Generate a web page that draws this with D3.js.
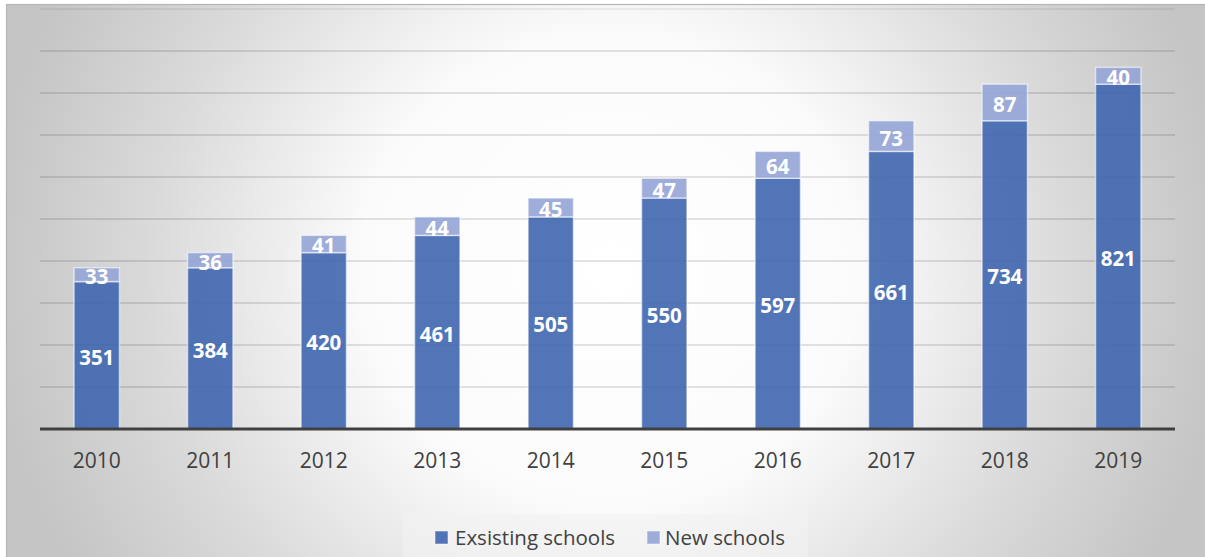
<!DOCTYPE html>
<html>
<head>
<meta charset="utf-8">
<script src="https://cdn.jsdelivr.net/npm/d3@7"></script>
<style>
  html, body { margin: 0; padding: 0; background: #ffffff; }
  svg { display: block; }
</style>
</head>
<body>
<svg id="chart" width="1205" height="557"></svg>
<script>
// School counts per year: existing schools plus newly opened ones
const years = ["2010", "2011", "2012", "2013", "2014", "2015", "2016", "2017", "2018", "2019"];
const existingSchools = [351, 384, 420, 461, 505, 550, 597, 661, 734, 821];
const newSchools = [33, 36, 41, 44, 45, 47, 64, 73, 87, 40];
const seriesNames = ["Exsisting schools", "New schools"];
const yTicks = [0, 100, 200, 300, 400, 500, 600, 700, 800, 900, 1000];

const W = 1205, H = 557;
const plot = { left: 40, right: 1175, top: 9, bottom: 429 };
const colors = { existing: "#3f66b0", added: "#93a4d6" };

const svg = d3.select("#chart");
const defs = svg.append("defs");

// Soft radial backdrop: white in the middle, grey toward the sides
const grad = defs.append("radialGradient")
  .attr("id", "bg")
  .attr("gradientUnits", "userSpaceOnUse")
  .attr("cx", 610).attr("cy", 270).attr("r", 620)
  .attr("gradientTransform", "translate(610,270) scale(1,0.95) translate(-610,-270)");
grad.append("stop").attr("offset", "0").attr("stop-color", "#ffffff");
grad.append("stop").attr("offset", "0.4").attr("stop-color", "#fbfbfb");
grad.append("stop").attr("offset", "0.75").attr("stop-color", "#d9d9d9");
grad.append("stop").attr("offset", "1").attr("stop-color", "#c5c5c5");

svg.append("rect")
  .attr("x", 6.5).attr("y", 4.5)
  .attr("width", W).attr("height", H)
  .attr("fill", "url(#bg)")
  .attr("stroke", "#b5b5b5").attr("stroke-width", 1.2);

const x = d3.scaleBand()
  .domain(years)
  .range([plot.left, plot.right])
  .paddingInner(0.6)
  .paddingOuter(0.3);

const y = d3.scaleLinear()
  .domain([0, 1000])
  .range([plot.bottom, plot.top]);

// Horizontal gridlines
svg.append("g")
  .selectAll("line")
  .data(yTicks.filter(d => d > 0))
  .join("line")
  .attr("x1", plot.left).attr("x2", plot.right)
  .attr("y1", d => y(d)).attr("y2", d => y(d))
  .attr("stroke", "#000")
  .attr("stroke-opacity", d => d === 1000 ? 0.08 : 0.15)
  .attr("stroke-width", 1.5);

const rows = years.map((yr, i) => ({ year: yr, existing: existingSchools[i], added: newSchools[i] }));
const stack = d3.stack().keys(["existing", "added"])(rows);

const bars = svg.append("g");
stack.forEach(layer => {
  bars.append("g")
    .selectAll("rect")
    .data(layer)
    .join("rect")
    .attr("x", d => x(d.data.year))
    .attr("width", x.bandwidth())
    .attr("y", d => y(d[1]))
    .attr("height", d => y(d[0]) - y(d[1]))
    .attr("fill", colors[layer.key])
    .attr("fill-opacity", 0.9)
    .attr("stroke", "#ffffff")
    .attr("stroke-opacity", 0.55)
    .attr("stroke-width", 1.5);
});

// Value labels centred in each segment
const labels = svg.append("g")
  .attr("font-family", "'Open Sans', sans-serif")
  .attr("font-weight", "bold")
  .attr("font-size", 20.5)
  .attr("fill", "#ffffff")
  .attr("text-anchor", "middle");
stack.forEach(layer => {
  labels.append("g")
    .selectAll("text")
    .data(layer)
    .join("text")
    .attr("x", d => x(d.data.year) + x.bandwidth() / 2)
    .attr("y", d => (y(d[0]) + y(d[1])) / 2 + 9.5)
    .text(d => d[1] - d[0]);
});

// Category axis
const xAxis = svg.append("g")
  .attr("transform", `translate(0,${plot.bottom})`)
  .call(d3.axisBottom(x).tickSize(0).tickPadding(0));
xAxis.select(".domain").remove();
xAxis.append("line")
  .attr("x1", plot.left).attr("x2", plot.right)
  .attr("y1", 0).attr("y2", 0)
  .attr("stroke", "#404040").attr("stroke-width", 3);
xAxis.selectAll(".tick text")
  .attr("dy", null)
  .attr("y", 39)
  .attr("font-family", "'Open Sans', sans-serif")
  .attr("font-size", 21)
  .attr("fill", "#404040");

// Legend
const legend = svg.append("g");
legend.append("rect")
  .attr("x", 403).attr("y", 514)
  .attr("width", 405).attr("height", 50)
  .attr("fill", "#f2f2f2").attr("fill-opacity", 0.6);
const legendItems = [
  { name: seriesNames[0], color: colors.existing, sx: 435, tx: 455 },
  { name: seriesNames[1], color: colors.added, sx: 647, tx: 665 }
];
legendItems.forEach(it => {
  legend.append("rect")
    .attr("x", it.sx).attr("y", 531)
    .attr("width", 13).attr("height", 13)
    .attr("fill", it.color).attr("fill-opacity", 0.9)
    .attr("stroke", "#ffffff").attr("stroke-opacity", 0.5);
  legend.append("text")
    .attr("x", it.tx).attr("y", 545)
    .attr("font-family", "'Open Sans', sans-serif")
    .attr("font-size", 20.5)
    .attr("fill", "#404040")
    .text(it.name);
});
</script>
</body>
</html>
